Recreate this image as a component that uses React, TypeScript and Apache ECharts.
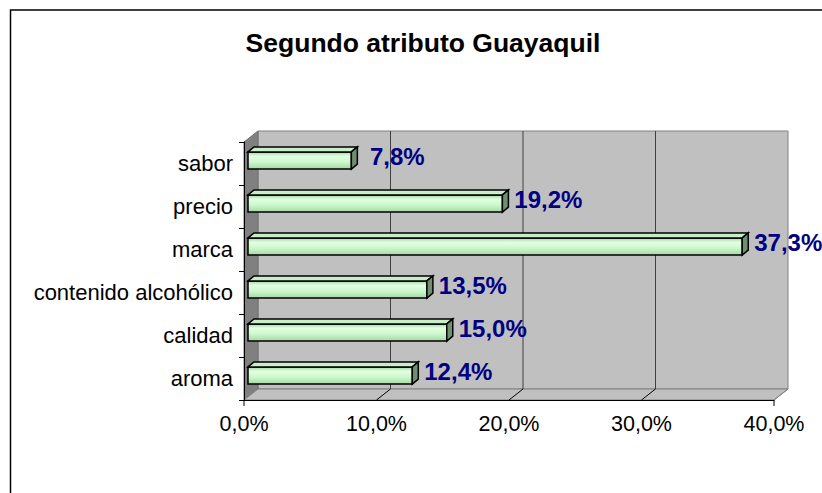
import React, { useEffect, useRef } from 'react';
import * as echarts from 'echarts';

const chartTitle = 'Segundo atributo Guayaquil';
const categories = ['aroma', 'calidad', 'contenido alcohólico', 'marca', 'precio', 'sabor'];
const values = [12.4, 15.0, 13.5, 37.3, 19.2, 7.8];
const xTicks = [0, 10, 20, 30, 40];

const DX = 14;
const DY = -11;
const FONT = '"Liberation Sans", Arial, sans-serif';
const fmt = (v: number) => v.toFixed(1).replace('.', ',') + '%';

export default function App() {
  const ref = useRef<HTMLDivElement>(null);
  useEffect(() => {
    const chart = echarts.init(ref.current!, null, { renderer: 'svg' });

    const frameItem = (params: any, api: any) => {
      const cs = params.coordSys;
      const x0 = cs.x, y0 = cs.y, x1 = cs.x + cs.width, y1 = cs.y + cs.height;
      const children: any[] = [];
      children.push({
        type: 'rect',
        shape: { x: x0 + DX, y: y0 + DY, width: cs.width, height: cs.height },
        style: { fill: '#c0c0c0', stroke: '#808080', lineWidth: 1 },
      });
      children.push({
        type: 'polygon',
        shape: { points: [[x0, y0], [x0 + DX, y0 + DY], [x0 + DX, y1 + DY], [x0, y1]] },
        style: { fill: '#808080', stroke: '#707070', lineWidth: 1 },
      });
      children.push({
        type: 'polygon',
        shape: { points: [[x0, y1], [x0 + DX, y1 + DY], [x1 + DX, y1 + DY], [x1, y1]] },
        style: { fill: '#c0c0c0', stroke: '#808080', lineWidth: 1 },
      });
      xTicks.forEach((t) => {
        const p = api.coord([t, 0]);
        if (t > 0 && t < 40) {
          children.push({
            type: 'line',
            shape: { x1: p[0] + DX, y1: y0 + DY, x2: p[0] + DX, y2: y1 + DY },
            style: { stroke: '#404040', lineWidth: 1 },
          });
        }
        if (t > 0) {
          children.push({
            type: 'line',
            shape: { x1: p[0], y1: y1, x2: p[0] + DX, y2: y1 + DY },
            style: { stroke: t === 40 ? '#808080' : '#000', lineWidth: 1 },
          });
        }
        if (t === 0 || t === 40) {
          children.push({
            type: 'line',
            shape: { x1: p[0], y1: y1, x2: p[0], y2: y1 + 6 },
            style: { stroke: '#000', lineWidth: 1 },
          });
        }
      });
      return { type: 'group', children };
    };

    const barItem = (params: any, api: any) => {
      const v = api.value(0);
      const idx = api.value(1);
      const p0 = api.coord([0, idx]);
      const p1 = api.coord([v, idx]);
      const band = api.size([0, 1])[1];
      const h = band * 0.4;
      const ox = 4, oy = -3, bx = 6, by = -5;
      const xl = p0[0] + ox;
      const xr = p1[0] + ox;
      const yt = p0[1] + oy - h / 2;
      const yb = yt + h;
      const grad = new echarts.graphic.LinearGradient(0, 0, 0, 1, [
        { offset: 0, color: '#9fd49f' },
        { offset: 0.25, color: '#e2ffe2' },
        { offset: 0.6, color: '#ccf7cc' },
        { offset: 1, color: '#a4d8a4' },
      ]);
      const label = fmt(v);
      return {
        type: 'group',
        children: [
          {
            type: 'rect',
            shape: { x: xl, y: yt, width: xr - xl, height: h },
            style: { fill: grad, stroke: '#000', lineWidth: 1.5 },
          },
          {
            type: 'polygon',
            shape: { points: [[xl, yt], [xl + bx, yt + by], [xr + bx, yt + by], [xr, yt]] },
            style: { fill: '#c8eec8', stroke: '#000', lineWidth: 1.5 },
          },
          {
            type: 'polygon',
            shape: { points: [[xr, yt], [xr + bx, yt + by], [xr + bx, yb + by], [xr, yb]] },
            style: { fill: '#6f8f6f', stroke: '#000', lineWidth: 1.5 },
          },
          {
            type: 'text',
            x: xr + bx + 40,
            y: (yt + yb) / 2 - 4,
            style: {
              text: label,
              fill: '#000080',
              fontSize: 24,
              fontWeight: 'bold',
              fontFamily: FONT,
              align: 'center',
              verticalAlign: 'middle',
              textAlign: 'center',
              textVerticalAlign: 'middle',
            },
          },
        ],
      };
    };

    const option: any = {
      animation: false,
      graphic: [
        {
          type: 'rect',
          z: 100,
          shape: { x: 10.5, y: 10, width: 830, height: 500 },
          style: { fill: 'none', stroke: '#000', lineWidth: 1.5 },
        },
        {
          type: 'text',
          x: 423,
          y: 43,
          style: {
            text: chartTitle,
            fill: '#000',
            fontSize: 26.5,
            fontWeight: 'bold',
            fontFamily: FONT,
            align: 'center',
            verticalAlign: 'middle',
            textAlign: 'center',
            textVerticalAlign: 'middle',
          },
        },
      ],
      grid: { left: 244, top: 142, width: 530, height: 258, containLabel: false },
      xAxis: {
        type: 'value',
        min: 0,
        max: 40,
        interval: 10,
        axisLine: { show: true, lineStyle: { color: '#000', width: 1 } },
        axisTick: { show: false },
        splitLine: { show: false },
        axisLabel: { formatter: fmt, fontSize: 21.5, fontFamily: FONT, color: '#000', margin: 13 },
      },
      yAxis: {
        type: 'category',
        data: categories,
        axisLine: { show: true, lineStyle: { color: '#000', width: 1 } },
        axisTick: { show: true, length: 5, lineStyle: { color: '#000' } },
        axisLabel: { fontSize: 22, fontFamily: FONT, color: '#000', margin: 11 },
      },
      series: [
        {
          type: 'custom',
          name: 'frame',
          z: -1,
          renderItem: frameItem,
          data: [[0, 0]],
          encode: { x: 0, y: 1 },
          silent: true,
        },
        {
          type: 'custom',
          name: 'bars',
          z: 3,
          renderItem: barItem,
          data: values.map((v, i) => [v, i]),
          encode: { x: 0, y: 1 },
        },
      ],
    };
    chart.setOption(option);
    return () => chart.dispose();
  }, []);

  return (
    <div
      ref={ref}
      style={{ position: 'fixed', left: 0, top: 0, width: 822, height: 493, background: '#fff' }}
    />
  );
}
